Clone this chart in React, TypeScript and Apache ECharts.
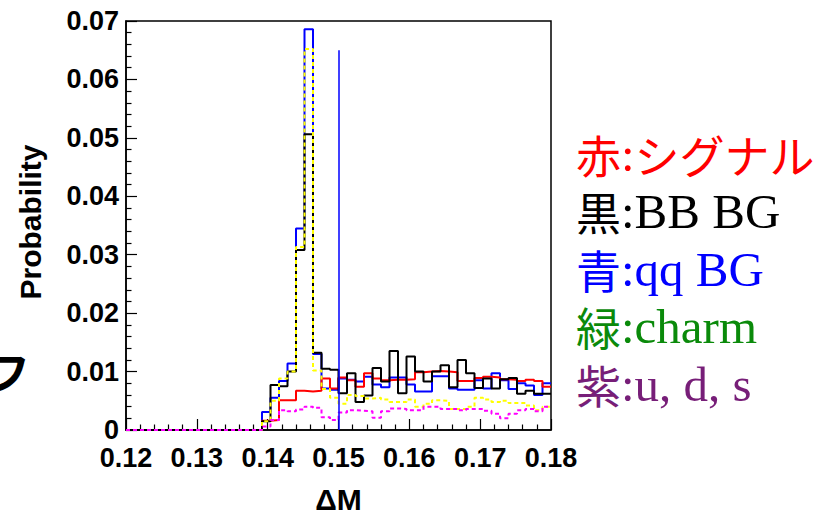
import { useEffect, useRef } from "react";
import * as echarts from "echarts";

// Histogram binning: 50 bins of width 0.0012 from 0.12 to 0.18
const binLow = 0.12;
const binWidth = 0.0012;

// Per-bin probabilities (bins 0..49)
const signal = [
  0, 0, 0, 0, 0, 0, 0, 0, 0, 0, 0, 0, 0, 0, 0, 0,
  0.0016, 0.0017, 0.0051, 0.0051, 0.0067, 0.0066, 0.0067, 0.0088, 0.0071, 0.009,
  0.0085, 0.0074, 0.0097, 0.0088, 0.0085, 0.0086, 0.0086, 0.0087, 0.0099, 0.01,
  0.0101, 0.01, 0.0099, 0.0084, 0.0084, 0.0089, 0.0091, 0.009, 0.0087, 0.0086,
  0.0084, 0.0086, 0.0084, 0.0074,
];
const bbBG = [
  0, 0, 0, 0, 0, 0, 0, 0, 0, 0, 0, 0, 0, 0, 0, 0,
  0.0015, 0.0077, 0.0075, 0.01, 0.0308, 0.0506, 0.0132, 0.0105, 0.0103, 0.0063,
  0.0097, 0.0048, 0.0059, 0.0106, 0.0083, 0.0135, 0.0063, 0.0126, 0.01, 0.0083,
  0.01, 0.0111, 0.0073, 0.012, 0.0097, 0.0072, 0.0088, 0.0071, 0.0087, 0.0089,
  0.0062, 0.0067, 0.0062, 0.0062,
];
const qqBG = [
  0, 0, 0, 0, 0, 0, 0, 0, 0, 0, 0, 0, 0, 0, 0, 0,
  0.0031, 0.0055, 0.0084, 0.0114, 0.0345, 0.0686, 0.013, 0.0071, 0.0069, 0.0088,
  0.0086, 0.0083, 0.0091, 0.0078, 0.0073, 0.009, 0.009, 0.0078, 0.0066, 0.0066,
  0.0092, 0.0092, 0.0071, 0.0069, 0.0069, 0.0085, 0.0071, 0.0097, 0.0085, 0.007,
  0.008, 0.0076, 0.006, 0.008,
];
const charm = [
  0, 0, 0, 0, 0, 0, 0, 0, 0, 0, 0, 0, 0, 0, 0, 0,
  0.0015, 0.005, 0.0088, 0.01, 0.0313, 0.0652, 0.0102, 0.007, 0.0055, 0.0045,
  0.006, 0.0058, 0.0054, 0.0055, 0.0052, 0.0048, 0.0048, 0.0052, 0.004, 0.0045,
  0.0051, 0.005, 0.0036, 0.0036, 0.004, 0.0055, 0.0052, 0.0048, 0.005, 0.0046,
  0.0046, 0.0042, 0.0034, 0.004,
];
const uds = [
  0, 0, 0, 0, 0, 0, 0, 0, 0, 0, 0, 0, 0, 0, 0, 0,
  0.0006, 0.0017, 0.0034, 0.0032, 0.0035, 0.004, 0.0038, 0.0022, 0.0017, 0.003,
  0.0034, 0.0033, 0.0032, 0.0021, 0.0032, 0.0037, 0.0036, 0.0034, 0.0034, 0.004,
  0.004, 0.0036, 0.0036, 0.0034, 0.0036, 0.0036, 0.0033, 0.0028, 0.002, 0.0028,
  0.0034, 0.0036, 0.0032, 0.004,
];

// Cut position drawn as a vertical line
const cutValue = [0.15];
const cutHeight = [0.065];

const seriesNames = ["qq BG", "シグナル", "BB BG", "charm", "u, d, s"];
const legendOrder = ["シグナル", "BB BG", "qq BG", "charm", "u, d, s"];
const legendPrefix = ["赤", "黒", "青", "緑", "紫"];
const legendColors = ["#ff0000", "#000000", "#0000ff", "#0a8a0a", "#771e78"];

const AXIS_FONT = "'Liberation Sans', Arial, Helvetica, sans-serif";
const CJK_FONT = "'Noto Sans CJK JP', sans-serif";
const LATIN_FONT = "'Liberation Serif', 'Times New Roman', serif";

function toSteps(values: number[]): [number, number][] {
  const pts: [number, number][] = values.map((v, i) => [binLow + i * binWidth, v]);
  pts.push([binLow + values.length * binWidth, values[values.length - 1]]);
  return pts;
}

// Split a label into rich-text runs: Japanese glyphs use the CJK style, the rest the serif style
function richLabel(text: string): string {
  const runs = text.match(/[\u3000-\u30ff\u4e00-\u9fff]+|[^\u3000-\u30ff\u4e00-\u9fff]+/g) || [];
  return runs
    .map((r) => (/[\u3000-\u30ff\u4e00-\u9fff]/.test(r) ? `{c|${r}}` : `{l|${r}}`))
    .join("");
}

export default function App() {
  const ref = useRef<HTMLDivElement>(null);

  useEffect(() => {
    if (!ref.current) return;
    const chart = echarts.init(ref.current, undefined, { renderer: "svg" });

    const histo = (
      name: string,
      values: number[],
      color: string,
      dashed: boolean,
      extra: Record<string, unknown> = {}
    ) => ({
      name,
      type: "line",
      step: "end",
      data: toSteps(values),
      showSymbol: false,
      symbol: "none",
      color,
      lineStyle: { color, width: 2, type: dashed ? [4, 3] : "solid" },
      silent: true,
      ...extra,
    });

    const tickStyle = { color: "#000", width: 1.2 };

    chart.setOption({
      animation: false,
      backgroundColor: "#ffffff",
      grid: {
        left: 126,
        top: 21,
        right: 272,
        bottom: 85,
        show: true,
        borderColor: "#000",
        borderWidth: 1.5,
        backgroundColor: "transparent",
        containLabel: false,
        outerBoundsMode: "none",
      },
      legend: {
        orient: "vertical",
        left: 566,
        top: 124,
        icon: "none",
        itemWidth: 0,
        itemHeight: 0,
        itemGap: 7.5,
        selectedMode: false,
        data: legendOrder.map((n, i) => ({
          name: n,
          textStyle: { color: legendColors[i] },
        })),
        formatter: (n: string) =>
          richLabel(`${legendPrefix[legendOrder.indexOf(n)]}:${n}`),
        textStyle: {
          fontSize: 45,
          lineHeight: 50,
          rich: {
            c: { fontSize: 45, fontFamily: CJK_FONT, lineHeight: 50 },
            l: { fontSize: 49, fontFamily: LATIN_FONT, lineHeight: 50 },
          },
        },
      },
      xAxis: {
        type: "value",
        min: 0.12,
        max: 0.18,
        interval: 0.01,
        axisLine: { show: true, onZero: false, lineStyle: { color: "#000", width: 1.5 } },
        axisTick: { show: true, inside: true, length: 11, lineStyle: tickStyle },
        minorTick: { show: true, splitNumber: 5, length: 5.5, lineStyle: tickStyle },
        splitLine: { show: false },
        axisLabel: {
          formatter: (v: number) => v.toFixed(2),
          fontSize: 27,
          fontWeight: "bold",
          fontFamily: AXIS_FONT,
          color: "#000",
          margin: 14,
        },
        name: "ΔM",
        nameLocation: "middle",
        nameGap: 54,
        nameTextStyle: {
          fontSize: 30,
          fontWeight: "bold",
          fontFamily: AXIS_FONT,
          color: "#000",
        },
      },
      yAxis: {
        type: "value",
        min: 0,
        max: 0.07,
        interval: 0.01,
        axisLine: { show: true, lineStyle: { color: "#000", width: 1.5 } },
        axisTick: { show: true, inside: true, length: 11, lineStyle: tickStyle },
        minorTick: { show: true, splitNumber: 5, length: 5.5, lineStyle: tickStyle },
        splitLine: { show: false },
        axisLabel: {
          formatter: (v: number) => (v === 0 ? "0" : v.toFixed(2)),
          fontSize: 27,
          fontWeight: "bold",
          fontFamily: AXIS_FONT,
          color: "#000",
          margin: 7,
        },
      },
      graphic: [
        {
          type: "text",
          x: 30,
          y: 222,
          rotation: Math.PI / 2,
          style: {
            text: "Probability",
            font: `bold 30px ${AXIS_FONT}`,
            fill: "#000",
            align: "center",
            verticalAlign: "middle",
          },
        },
        {
          type: "text",
          x: -14,
          y: 370,
          style: {
            text: "フ",
            font: "bold 44px 'Noto Sans CJK JP'",
            fill: "#000",
            align: "left",
            verticalAlign: "middle",
          },
        },
      ],
      series: [
        histo(seriesNames[0], qqBG, "#0000ff", false, {
          markLine: {
            silent: true,
            symbol: "none",
            label: { show: false },
            lineStyle: { color: "#0000ff", width: 1.5, type: "solid" },
            data: [[{ coord: [cutValue[0], 0] }, { coord: [cutValue[0], cutHeight[0]] }]],
          },
        }),
        histo(seriesNames[1], signal, "#ff0000", false),
        histo(seriesNames[2], bbBG, "#000000", false),
        histo(seriesNames[3], charm, "#ffff00", true),
        histo(seriesNames[4], uds, "#ff00ff", true),
      ],
    });

    return () => chart.dispose();
  }, []);

  return (
    <div
      ref={ref}
      style={{ position: "fixed", left: 0, top: 0, width: 823, height: 515, background: "#fff" }}
    />
  );
}
